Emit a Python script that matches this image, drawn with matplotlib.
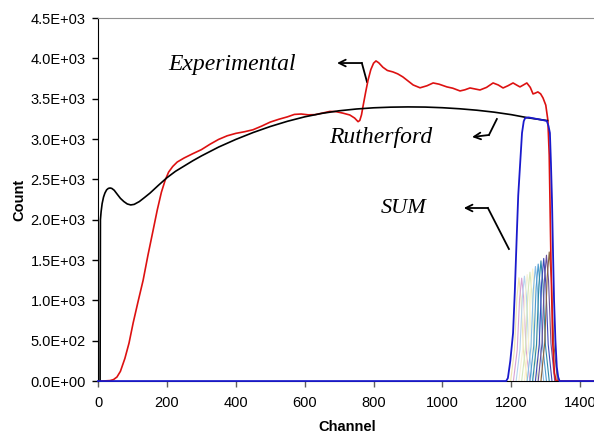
import matplotlib.pyplot as plt
from matplotlib.ticker import FixedLocator, FuncFormatter

# Rutherford (black)
ruth_ch = [0, 6, 7, 9, 12, 16, 20, 25, 30, 35, 40, 47, 55, 65, 75, 85, 95, 105, 120, 135, 151, 175,
           200, 225, 250, 275, 300, 350, 400, 450, 500, 550, 600, 650, 700, 750, 800, 850, 900, 950,
           1000, 1050, 1100, 1150, 1200, 1250, 1305]
ruth_cnt = [0, 0, 2000, 2100, 2200, 2280, 2330, 2370, 2388, 2393, 2388, 2365, 2320, 2265, 2225, 2195,
            2183, 2190, 2225, 2275, 2330, 2425, 2520, 2600, 2665, 2730, 2790, 2900, 2995, 3080, 3155,
            3220, 3275, 3318, 3350, 3372, 3387, 3395, 3398, 3396, 3388, 3375, 3357, 3333, 3302, 3262,
            3228]

# Experimental (red)
exp_ch = [0, 20, 35, 45, 55, 65, 78, 90, 102, 116, 131, 145, 160, 172, 184, 195, 205, 217, 230, 250,
          275, 300, 325, 350, 375, 400, 425, 450, 475, 500, 525, 550, 570, 590, 610, 630, 650, 673,
          690, 710, 731, 745, 755, 760, 765, 770, 777, 784, 792, 800, 807, 815, 827, 840, 856, 870,
          885, 900, 915, 935, 955, 973, 990, 1013, 1030, 1051, 1065, 1080, 1095, 1109, 1128, 1147,
          1162, 1176, 1190, 1205, 1215, 1225, 1235, 1245, 1255, 1263, 1270, 1277, 1285, 1292, 1300,
          1306, 1310, 1315, 1320, 1325, 1330, 1440]
exp_cnt = [0, 2, 6, 18, 50, 120, 280, 470, 720, 980, 1250, 1560, 1870, 2120, 2340, 2490, 2590, 2660,
           2715, 2765, 2818, 2868, 2935, 2995, 3040, 3070, 3090, 3115, 3160, 3210, 3245, 3275, 3305,
           3310, 3300, 3302, 3320, 3342, 3340, 3322, 3298, 3260, 3215, 3230, 3300, 3420, 3580, 3730,
           3860, 3940, 3968, 3945, 3890, 3850, 3832, 3808, 3770, 3720, 3670, 3635, 3660, 3695, 3680,
           3646, 3630, 3596, 3610, 3633, 3620, 3608, 3640, 3695, 3670, 3633, 3660, 3695, 3670, 3646,
           3670, 3695, 3640, 3559, 3570, 3584, 3560, 3509, 3420, 3236, 2800, 1500, 500, 100, 0, 0]

# SUM (blue)
sum_ch = [0, 1185, 1190, 1197, 1205, 1210, 1216, 1220, 1225, 1231, 1236, 1240, 1250, 1270, 1290,
          1303, 1308, 1312, 1315, 1318, 1321, 1324, 1328, 1332, 1336, 1340, 1440]
sum_cnt = [0, 0, 37, 250, 595, 1100, 1835, 2300, 2654, 3075, 3220, 3260, 3268, 3252, 3236, 3224,
           3160, 3075, 2700, 2245, 1600, 1004, 500, 174, 50, 0, 0]

# individual peaks under the SUM curve
peak_ch = [
    [1198, 1209, 1216, 1222, 1228, 1235, 1246],
    [1206, 1217, 1224, 1230, 1236, 1243, 1254],
    [1214, 1225, 1232, 1238, 1244, 1251, 1262],
    [1222, 1233, 1240, 1246, 1252, 1259, 1270],
    [1230, 1241, 1248, 1254, 1260, 1267, 1278],
    [1238, 1249, 1256, 1262, 1268, 1275, 1286],
    [1246, 1257, 1264, 1270, 1276, 1283, 1294],
    [1254, 1265, 1272, 1278, 1284, 1291, 1302],
    [1262, 1273, 1280, 1286, 1292, 1299, 1310],
    [1270, 1281, 1288, 1294, 1300, 1307, 1318],
    [1278, 1289, 1296, 1302, 1308, 1315, 1326],
    [1286, 1297, 1304, 1310, 1316, 1323, 1334],
]
peak_cnt = [
    [0, 384, 1024, 1280, 1024, 384, 0],
    [0, 383, 1020, 1275, 1020, 383, 0],
    [0, 390, 1040, 1300, 1040, 390, 0],
    [0, 396, 1056, 1320, 1056, 396, 0],
    [0, 405, 1080, 1350, 1080, 405, 0],
    [0, 417, 1112, 1390, 1112, 417, 0],
    [0, 426, 1136, 1420, 1136, 426, 0],
    [0, 435, 1160, 1450, 1160, 435, 0],
    [0, 447, 1192, 1490, 1192, 447, 0],
    [0, 456, 1216, 1520, 1216, 456, 0],
    [0, 468, 1248, 1560, 1248, 468, 0],
    [0, 480, 1280, 1600, 1280, 480, 0],
]
peak_colors = ['#efe3b0', '#d9a3d3', '#b5d3ee', '#f6f1d6', '#d5e8bd', '#fbf3cf',
               '#86bde6', '#4f9cd0', '#2f8aa8', '#3c48b8', '#6a4f9a', '#8a6440']

y_ticks = [0, 500, 1000, 1500, 2000, 2500, 3000, 3500, 4000, 4500]
x_ticks = [0, 200, 400, 600, 800, 1000, 1200, 1400]

plt.rcParams['font.family'] = ['Liberation Sans', 'DejaVu Sans']

fig = plt.figure(figsize=(5.94, 4.34), dpi=100)
ax = fig.add_axes([0.165, 0.122, 0.835, 0.8365])

for xs, ys, c in zip(peak_ch, peak_cnt, peak_colors):
    ax.plot(xs, ys, color=c, lw=0.8, zorder=2)

ax.plot(exp_ch, exp_cnt, color='#dd1111', lw=1.2, zorder=3)
ax.plot(ruth_ch, ruth_cnt, color='black', lw=1.2, zorder=4)
ax.plot(sum_ch, sum_cnt, color='#1a1acc', lw=1.3, zorder=5, clip_on=False)

# labels with elbow arrows
ital = dict(family=['Liberation Serif', 'DejaVu Serif'], style='italic')
ax.text(389, 3918, 'Experimental', fontsize=17, ha='center', va='center', **ital)
ax.text(821, 3025, 'Rutherford', fontsize=17, ha='center', va='center', **ital)
ax.text(888, 2145, 'SUM', fontsize=16, ha='center', va='center', **ital)

arr = dict(arrowstyle='->', lw=1.3, color='black', mutation_scale=12, shrinkA=0, shrinkB=0)
ax.plot([781, 766], [3707, 3942], color='black', lw=1.3)
ax.annotate('', xy=(694, 3942), xytext=(766, 3942), arrowprops=arr)
ax.plot([1158, 1135], [3248, 3050], color='black', lw=1.3)
ax.annotate('', xy=(1086, 3025), xytext=(1135, 3050), arrowprops=arr)
ax.plot([1193, 1132], [1637, 2145], color='black', lw=1.3)
ax.annotate('', xy=(1062, 2145), xytext=(1132, 2145), arrowprops=arr)

ax.set_xlim(0, 1440)
ax.set_ylim(0, 4500)
ax.yaxis.set_major_locator(FixedLocator(y_ticks))
ax.yaxis.set_major_formatter(FuncFormatter(lambda v, p: f'{v:.1E}'))
ax.xaxis.set_major_locator(FixedLocator(x_ticks))

ax.spines['right'].set_visible(False)
ax.spines['top'].set_color('#909090')
ax.spines['left'].set_color('black')
ax.spines['bottom'].set_color('black')
ax.tick_params(axis='y', length=4, width=1, pad=5, labelsize=10.5, colors='black')
ax.tick_params(axis='x', length=4, width=1, pad=7, labelsize=10.5, colors='#606060', labelcolor='black')

ax.set_ylabel('Count', fontsize=10.5, fontweight='bold')
ax.set_xlabel('Channel', fontsize=10.5, fontweight='bold')
ax.yaxis.set_label_coords(-0.145, 0.5)
ax.xaxis.set_label_coords(0.502, -0.108)

plt.savefig('out.png', dpi=100)
